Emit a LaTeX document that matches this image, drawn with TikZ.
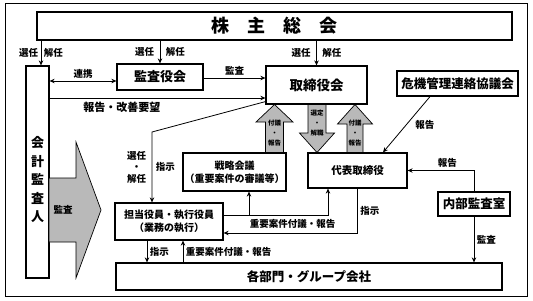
\documentclass[tikz,border=0pt]{standalone}
\usepackage{fontspec}
\setmainfont{Noto Sans CJK JP}
\usetikzlibrary{arrows.meta,calc}

\begin{document}
\begin{tikzpicture}[x=1pt, y=-1pt,
  box/.style={draw=black, line width=1.2pt, fill=white, align=center, inner sep=0pt,
    font=\bfseries\fontsize{12.5}{14}\selectfont},
  subbox/.style={box, font=\bfseries\fontsize{10}{13}\selectfont},
  lbl/.style={font=\bfseries\fontsize{9.5}{11.5}\selectfont, inner sep=2.5pt, align=center},
  tinylbl/.style={font=\bfseries\fontsize{6.5}{10}\selectfont, inner sep=0pt, align=center},
  arr/.style={-{Stealth[length=5pt, width=4.5pt]}, line width=0.8pt},
  darr/.style={{Stealth[length=5pt, width=4.5pt]}-{Stealth[length=5pt, width=4.5pt]}, line width=0.8pt},
  blk/.style={draw=black, line width=0.7pt, fill=gray!55}
]
  \useasboundingbox (0,0) rectangle (533,300);
  \draw[line width=0.8pt] (5,3) rectangle (527,296);

  % block arrows (drawn first, boxes cover their ends)
  \draw[blk] (265.5,153) -- (265.5,122) -- (256,122) -- (274.5,104.5) -- (293,122)
    -- (283.5,122) -- (283.5,153) -- cycle;
  \draw[blk] (308,104) -- (308,133) -- (299.5,133) -- (317,152.5) -- (334.5,133)
    -- (326,133) -- (326,104) -- cycle;
  \draw[blk] (347,153) -- (347,124) -- (337.5,124) -- (355,104.5) -- (372.5,124)
    -- (363,124) -- (363,153) -- cycle;
  \node[tinylbl] (upa) at (274.5,133) {付議\\・\\報告};
  \node[tinylbl] (dna) at (317,123) {選定\\・\\解職};
  \node[tinylbl] (upb) at (355,133) {付議\\・\\報告};

  % boxes
  \node[box, minimum width=475pt, minimum height=28pt,
    font=\bfseries\fontsize{18}{20}\selectfont] (meeting) at (274.5,26)
    {株\hspace{1em}主\hspace{1em}総\hspace{1em}会};
  \node[box, minimum width=23pt, minimum height=212pt] (auditor) at (37.5,172) {};
  \node[font=\bfseries\fontsize{13}{18.5}\selectfont, align=center, inner sep=0pt]
    (auditortext) at (37.5,180) {会\\計\\監\\査\\人};
  \node[box, minimum width=86pt, minimum height=26pt, font=\bfseries\fontsize{13}{14}\selectfont]
    (kansayaku) at (160,77) {監査役会};
  \node[box, minimum width=101pt, minimum height=38pt, font=\bfseries\fontsize{13.5}{14}\selectfont]
    (board) at (316.5,85) {取締役会};
  \node[box, minimum width=121pt, minimum height=25pt] (crisis) at (457.5,83.5) {危機管理連絡協議会};
  \node[subbox, minimum width=103pt, minimum height=38pt] (strategy) at (234.5,172)
    {戦略会議\\（重要案件の審議等）};
  \node[subbox, minimum width=99pt, minimum height=35pt, font=\bfseries\fontsize{10.5}{13}\selectfont]
    (ceo) at (357.5,170.5) {代表取締役};
  \node[subbox, minimum width=108pt, minimum height=37pt] (officer) at (169,221.5)
    {担当役員・執行役員\\（業務の執行）};
  \node[box, minimum width=72pt, minimum height=24pt] (internal) at (474,204) {内部監査室};
  \node[box, minimum width=386pt, minimum height=27pt] (divisions) at (309,276.5)
    {各部門・グループ会社};

  % big audit arrow
  \draw[blk] (49,178) -- (76,178) -- (76,142) -- (101,210) -- (76,278) -- (76,242)
    -- (49,242) -- cycle;
  \node[lbl] (auditlbl) at (63,210) {監査};

  % helper points
  \coordinate (a1) at ([xshift=3.5pt]auditor.north);
  \coordinate (b1) at ([yshift=-4pt]kansayaku.west);
  \coordinate (b2) at ([yshift=7pt]board.west);
  \coordinate (b3) at ([yshift=-13pt]board.west);
  \coordinate (c1) at ([yshift=3pt]board.south west);
  \coordinate (c2) at ([xshift=-17pt]officer.north);
  \coordinate (d1) at ([yshift=6.5pt]officer.east);
  \coordinate (d2) at ([xshift=-29.5pt]ceo.south);
  \coordinate (d3) at ([xshift=14.5pt]strategy.south);
  \coordinate (d4) at ([yshift=-11.5pt]officer.east);
  \coordinate (e1) at ([xshift=-22pt]officer.south);
  \coordinate (e2) at ([xshift=14pt]officer.south);
  \coordinate (f1) at ([xshift=-27.5pt]crisis.south);
  \coordinate (f2) at ([xshift=25.5pt]ceo.north);

  % appointment by the general meeting
  \draw[arr] (a1 |- meeting.south) -- node[lbl, left] {選任} node[lbl, right] {解任} (a1);
  \draw[arr] (meeting.south -| kansayaku.north) -- node[lbl, left, xshift=-3pt] {選任}
    node[lbl, right, xshift=3pt] {解任} (kansayaku.north);
  \draw[arr] (meeting.south -| board.north) -- node[lbl, left, xshift=-3pt] {選任}
    node[lbl, right, xshift=3pt] {解任} (board.north);

  \draw[darr] (auditor.east |- b1) -- node[lbl, above] {連携} (b1);
  \draw[arr] (kansayaku.east |- b2) -- node[lbl, above] {監査} (b2);
  \draw[arr] (auditor.east |- b3) -- node[lbl, below, pos=0.335, yshift=-1pt,
    font=\bfseries\fontsize{11}{12}\selectfont] {報告・改善要望} (b3);

  \draw[arr] (c1) -- (c2 |- 0,132) -- node[lbl, left, xshift=-3pt] {選任\\・\\解任}
    node[lbl, right, xshift=1pt] {指示} (c2);

  \draw[arr] (f1) -- node[lbl, right, xshift=6pt] {報告} (f2);
  \draw[arr] (internal.north) |- node[lbl, above, pos=0.7] {報告} (ceo.east);
  \draw[arr] (internal.south) -- node[lbl, right] {監査} (internal.south |- divisions.north);

  \draw[arr] (d1) -- node[lbl, below, pos=0.66, yshift=-1pt] {重要案件付議・報告} (d2 |- d1) -- (d2);
  \draw[arr] (d3 |- d1) -- (d3);
  \draw[arr] (ceo.south) -- (ceo.south |- d4) node[lbl, right, midway] {指示} -- (d4);

  \draw[arr] (e1) -- node[lbl, right] {指示} (e1 |- divisions.north);
  \draw[arr] (e2 |- divisions.north) -- node[lbl, right] {重要案件付議・報告} (e2);
\end{tikzpicture}
\end{document}
